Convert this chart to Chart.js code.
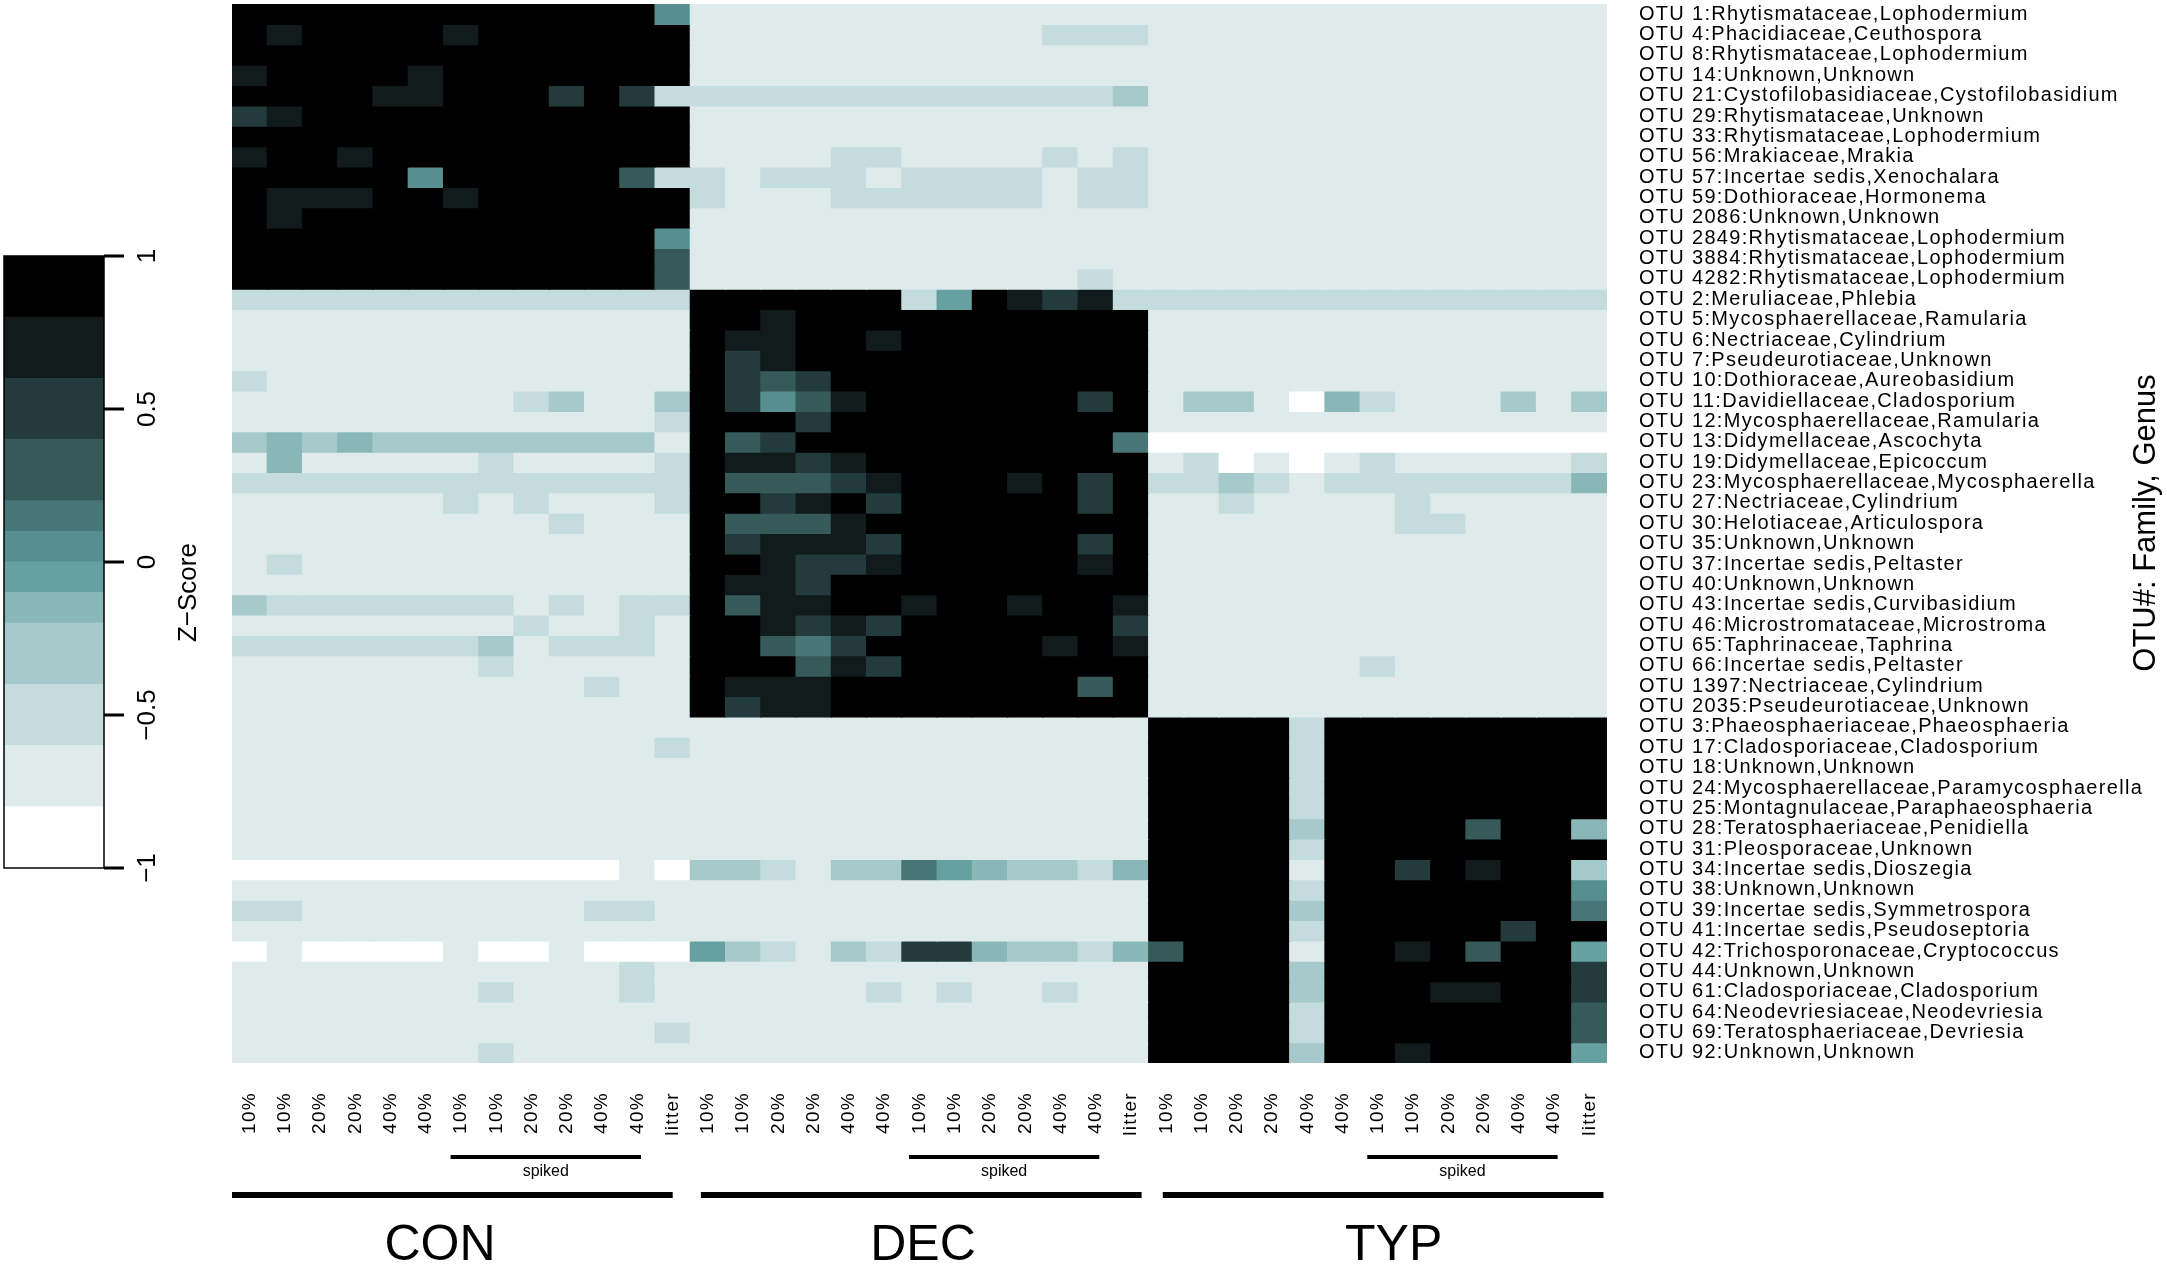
<!DOCTYPE html>
<html>
<head>
<meta charset="utf-8">
<script src="https://cdn.jsdelivr.net/npm/chart.js@4.4.1/dist/chart.umd.min.js"></script>
<style>
    html, body { margin: 0; padding: 0; background: #fff; }
    #wrap { position: relative; width: 2167px; height: 1267px; }
    #heat, #zscale { position: absolute; left: 0; top: 0; }
</style>
</head>
<body>
<div id="wrap">
    <canvas id="heat" width="2167" height="1267"></canvas>
    <canvas id="zscale" width="230" height="1267"></canvas>
</div>
<script>
var groupNames = ['CON', 'DEC', 'TYP'];
var sampleLabels = ['10%', '10%', '20%', '20%', '40%', '40%', '10%', '10%', '20%', '20%', '40%', '40%', 'litter'];
var otuLabels = [
    'OTU 1:Rhytismataceae,Lophodermium', 'OTU 4:Phacidiaceae,Ceuthospora', 'OTU 8:Rhytismataceae,Lophodermium',
    'OTU 14:Unknown,Unknown', 'OTU 21:Cystofilobasidiaceae,Cystofilobasidium', 'OTU 29:Rhytismataceae,Unknown',
    'OTU 33:Rhytismataceae,Lophodermium', 'OTU 56:Mrakiaceae,Mrakia', 'OTU 57:Incertae sedis,Xenochalara',
    'OTU 59:Dothioraceae,Hormonema', 'OTU 2086:Unknown,Unknown', 'OTU 2849:Rhytismataceae,Lophodermium',
    'OTU 3884:Rhytismataceae,Lophodermium', 'OTU 4282:Rhytismataceae,Lophodermium', 'OTU 2:Meruliaceae,Phlebia',
    'OTU 5:Mycosphaerellaceae,Ramularia', 'OTU 6:Nectriaceae,Cylindrium', 'OTU 7:Pseudeurotiaceae,Unknown',
    'OTU 10:Dothioraceae,Aureobasidium', 'OTU 11:Davidiellaceae,Cladosporium', 'OTU 12:Mycosphaerellaceae,Ramularia',
    'OTU 13:Didymellaceae,Ascochyta', 'OTU 19:Didymellaceae,Epicoccum', 'OTU 23:Mycosphaerellaceae,Mycosphaerella',
    'OTU 27:Nectriaceae,Cylindrium', 'OTU 30:Helotiaceae,Articulospora', 'OTU 35:Unknown,Unknown',
    'OTU 37:Incertae sedis,Peltaster', 'OTU 40:Unknown,Unknown', 'OTU 43:Incertae sedis,Curvibasidium',
    'OTU 46:Microstromataceae,Microstroma', 'OTU 65:Taphrinaceae,Taphrina', 'OTU 66:Incertae sedis,Peltaster',
    'OTU 1397:Nectriaceae,Cylindrium', 'OTU 2035:Pseudeurotiaceae,Unknown', 'OTU 3:Phaeosphaeriaceae,Phaeosphaeria',
    'OTU 17:Cladosporiaceae,Cladosporium', 'OTU 18:Unknown,Unknown', 'OTU 24:Mycosphaerellaceae,Paramycosphaerella',
    'OTU 25:Montagnulaceae,Paraphaeosphaeria', 'OTU 28:Teratosphaeriaceae,Penidiella', 'OTU 31:Pleosporaceae,Unknown',
    'OTU 34:Incertae sedis,Dioszegia', 'OTU 38:Unknown,Unknown', 'OTU 39:Incertae sedis,Symmetrospora',
    'OTU 41:Incertae sedis,Pseudoseptoria', 'OTU 42:Trichosporonaceae,Cryptococcus', 'OTU 44:Unknown,Unknown',
    'OTU 61:Cladosporiaceae,Cladosporium', 'OTU 64:Neodevriesiaceae,Neodevriesia', 'OTU 69:Teratosphaeriaceae,Devriesia',
    'OTU 92:Unknown,Unknown'
];

// z-score bins of the colour key, lowest first
var zBreaks = [-1, -0.8, -0.6, -0.4, -0.2, -0.1, 0, 0.1, 0.2, 0.4, 0.6, 0.8, 1];
var zTicks = [-1, -0.5, 0, 0.5, 1];
var binColors = ['#ffffff', '#dfeaea', '#c4dcdd', '#a6cacb', '#89b7b8', '#66a0a1',
                 '#578e8f', '#487677', '#36595a', '#233b3c', '#111b1b', '#000000'];

// one string per OTU, one char per sample = bin index (0-9, A=10, B=11)
var conBins = [
    'BBBBBBBBBBBB6', 'BABBBBABBBBBB', 'BBBBBBBBBBBBB', 'ABBBBABBBBBBB', 'BBBBAABBB9B92', '9ABBBBBBBBBBB',
    'BBBBBBBBBBBBB', 'ABBABBBBBBBBB', 'BBBBB6BBBBB82', 'BAAABBABBBBBB', 'BABBBBBBBBBBB', 'BBBBBBBBBBBB6',
    'BBBBBBBBBBBB8', 'BBBBBBBBBBBB8', '2222222222222', '1111111111111', '1111111111111', '1111111111111',
    '2111111111111', '1111111123113', '1111111111112', '3434333333331', '1411111211112', '2222222222222',
    '1111112121112', '1111111112111', '1111111111111', '1211111111111', '1111111111111', '3222222212122',
    '1111111121121', '2222222312221', '1111111211111', '1111111111211', '1111111111111', '1111111111111',
    '1111111111112', '1111111111111', '1111111111111', '1111111111111', '1111111111111', '1111111111111',
    '0000000000010', '1111111111111', '2211111111221', '1111111111111', '0100001001000', '1111111111121',
    '1111111211121', '1111111111111', '1111111111112', '1111111211111'
];
var decBins = [
    '1111111111111', '1111111111222', '1111111111111', '1111111111111', '2222222222223', '1111111111111',
    '1111111111111', '1111221111212', '2122212222122', '2111222222122', '1111111111111', '1111111111111',
    '1111111111111', '1111111111121', 'BBBBBB25BA9A2', 'BBABBBBBBBBBB', 'BAABBABBBBBBB', 'B9ABBBBBBBBBB',
    'B989BBBBBBBBB', 'B968ABBBBBB9B', 'BBB9BBBBBBBBB', 'B89BBBBBBBBB7', 'BAA9ABBBBBBBB', 'B8889ABBBAB9B',
    'BB9AB9BBBBB9B', 'B888ABBBBBBBB', 'B9AAA9BBBBB9B', 'BBA99ABBBBBAB', 'BAA9BBBBBBBBB', 'B8AABBABBABBA',
    'BBA9A9BBBBBB9', 'BB879BBBBBABA', 'BBB8A9BBBBBBB', 'BAAABBBBBBB8B', 'B9AABBBBBBBBB', '1111111111111',
    '1111111111111', '1111111111111', '1111111111111', '1111111111111', '1111111111111', '1111111111111',
    '3321337543324', '1111111111111', '1111111111111', '1111111111111', '5321329943324', '1111111111111',
    '1111121211211', '1111111111111', '1111111111111', '1111111111111'
];
var typBins = [
    '1111111111111', '1111111111111', '1111111111111', '1111111111111', '1111111111111', '1111111111111',
    '1111111111111', '1111111111111', '1111111111111', '1111111111111', '1111111111111', '1111111111111',
    '1111111111111', '1111111111111', '2222222222222', '1111111111111', '1111111111111', '1111111111111',
    '1111111111111', '1331042111313', '1111111111111', '0000000000000', '1201012111112', '2232122222224',
    '1121111211111', '1111111221111', '1111111111111', '1111111111111', '1111111111111', '1111111111111',
    '1111111111111', '1111111111111', '1111112111111', '1111111111111', '1111111111111', 'BBBB2BBBBBBBB',
    'BBBB2BBBBBBBB', 'BBBB2BBBBBBBB', 'BBBB2BBBBBBBB', 'BBBB2BBBBBBBB', 'BBBB3BBBB8BB4', 'BBBB2BBBBBBBB',
    'BBBB1BB9BABB3', 'BBBB2BBBBBBB6', 'BBBB3BBBBBBB7', 'BBBB2BBBBB9BB', '8BBB1BBAB8BB5', 'BBBB3BBBBBBB9',
    'BBBB3BBBAABB9', 'BBBB2BBBBBBB8', 'BBBB2BBBBBBB8', 'BBBB3BBABBBB5'
];

var FONT = "'Liberation Sans', Arial, Helvetica, sans-serif";

var columnLabels = [];
groupNames.forEach(function () { columnLabels = columnLabels.concat(sampleLabels); });

function rowBins(r) {
    return (conBins[r] + decBins[r] + typBins[r]).split('').map(function (c) { return parseInt(c, 12); });
}

var heatDatasets = otuLabels.map(function (name, r) {
    return {
        label: name,
        data: columnLabels.map(function () { return 1; }),
        backgroundColor: rowBins(r).map(function (b) { return binColors[b]; }),
        borderWidth: 0,
        inflateAmount: 0.6,
        barPercentage: 1,
        categoryPercentage: 1
    };
});

// group bars, "spiked" bars and the axis titles
var groupDecor = {
    id: 'groupDecor',
    beforeDraw: function (chart) { chart.ctx.letterSpacing = '1.3px'; },
    beforeDatasetsDraw: function (chart) { chart.ctx.letterSpacing = '0px'; },
    afterDraw: function (chart) {
        var ctx = chart.ctx;
        var xs = chart.scales.x;
        var w = xs.getPixelForValue(1) - xs.getPixelForValue(0);
        var x0 = xs.getPixelForValue(0) - w / 2;
        var col = function (u) { return x0 + u * w; };
        var lineStart = [0, 13.3, 26.4];
        var titleAt = [5.9, 19.6, 32.95];

        ctx.save();
        ctx.letterSpacing = '0px';
        ctx.fillStyle = '#000';
        ctx.strokeStyle = '#000';
        ctx.textAlign = 'center';
        ctx.textBaseline = 'middle';
        groupNames.forEach(function (g, i) {
            var base = i * 13;
            ctx.lineWidth = 4;
            ctx.beginPath();
            ctx.moveTo(col(base + 6.2), 1157);
            ctx.lineTo(col(base + 11.6), 1157);
            ctx.stroke();
            ctx.font = '16px ' + FONT;
            ctx.fillText('spiked', col(base + 8.9), 1172);

            ctx.lineWidth = 6;
            ctx.beginPath();
            ctx.moveTo(col(lineStart[i]), 1195);
            ctx.lineTo(col(lineStart[i] + 12.5), 1195);
            ctx.stroke();
            ctx.font = '50px ' + FONT;
            ctx.fillText(g, col(titleAt[i]), 1246);
        });

        ctx.translate(2146, 523);
        ctx.rotate(-Math.PI / 2);
        ctx.font = '31px ' + FONT;
        ctx.fillText('OTU#: Family, Genus', 0, 0);
        ctx.restore();
    }
};

new Chart(document.getElementById('heat'), {
    type: 'bar',
    data: { labels: columnLabels, datasets: heatDatasets },
    options: {
        responsive: false,
        animation: false,
        events: [],
        layout: { autoPadding: false, padding: { left: 232, top: 4, right: 0, bottom: 0 } },
        plugins: { legend: { display: false }, tooltip: { enabled: false } },
        scales: {
            x: {
                stacked: true,
                grid: { display: false, drawTicks: false },
                border: { display: false },
                afterFit: function (s) {
                    s.height = 204;
                    s.paddingLeft = 0; s.paddingRight = 0; s.paddingTop = 0; s.paddingBottom = 0;
                },
                ticks: {
                    autoSkip: false, maxRotation: 90, minRotation: 90, padding: 29,
                    color: '#000', font: { family: FONT, size: 19 }
                }
            },
            y: {
                type: 'linear',
                position: 'right',
                stacked: true,
                reverse: true,
                min: 0,
                max: otuLabels.length,
                grid: { display: false, drawTicks: false },
                border: { display: false },
                afterBuildTicks: function (s) {
                    s.ticks = otuLabels.map(function (n, i) { return { value: i + 0.5 }; });
                },
                afterFit: function (s) {
                    s.width = 560;
                    s.paddingLeft = 0; s.paddingRight = 0; s.paddingTop = 0; s.paddingBottom = 0;
                },
                ticks: {
                    autoSkip: false, padding: 32, color: '#000',
                    font: { family: FONT, size: 20 },
                    callback: function (v, i) { return otuLabels[i]; }
                }
            }
        }
    },
    plugins: [groupDecor]
});

// colour key on the left
var keyDecor = {
    id: 'keyDecor',
    afterDraw: function (chart) {
        var ctx = chart.ctx;
        var a = chart.chartArea;
        var ys = chart.scales.y;
        ctx.save();
        ctx.strokeStyle = '#000';
        ctx.fillStyle = '#000';
        ctx.lineWidth = 1.5;
        ctx.strokeRect(a.left, a.top, a.right - a.left, a.bottom - a.top);
        ctx.lineWidth = 3;
        ctx.font = '26px ' + FONT;
        ctx.textAlign = 'center';
        ctx.textBaseline = 'middle';
        zTicks.forEach(function (t) {
            var y = ys.getPixelForValue(t);
            ctx.beginPath();
            ctx.moveTo(a.right, y);
            ctx.lineTo(a.right + 20, y);
            ctx.stroke();
            ctx.save();
            ctx.translate(a.right + 44, y);
            ctx.rotate(-Math.PI / 2);
            ctx.fillText(String(t).replace('-', '\u2212'), 0, 0);
            ctx.restore();
        });
        ctx.translate(a.right + 85, ys.getPixelForValue(-0.1));
        ctx.rotate(-Math.PI / 2);
        ctx.fillText('Z\u2212Score', 0, 0);
        ctx.restore();
    }
};

new Chart(document.getElementById('zscale'), {
    type: 'bar',
    data: {
        labels: ['z'],
        datasets: binColors.map(function (c, k) {
            return {
                data: [[zBreaks[k], zBreaks[k + 1]]],
                backgroundColor: c,
                grouped: false,
                borderWidth: 0,
                inflateAmount: 0.5,
                barPercentage: 1,
                categoryPercentage: 1
            };
        })
    },
    options: {
        responsive: false,
        animation: false,
        events: [],
        layout: { autoPadding: false, padding: { left: 4, right: 126, top: 256, bottom: 399 } },
        plugins: { legend: { display: false }, tooltip: { enabled: false } },
        scales: {
            x: { display: false },
            y: { display: false, min: -1, max: 1 }
        }
    },
    plugins: [keyDecor]
});
</script>
</body>
</html>
